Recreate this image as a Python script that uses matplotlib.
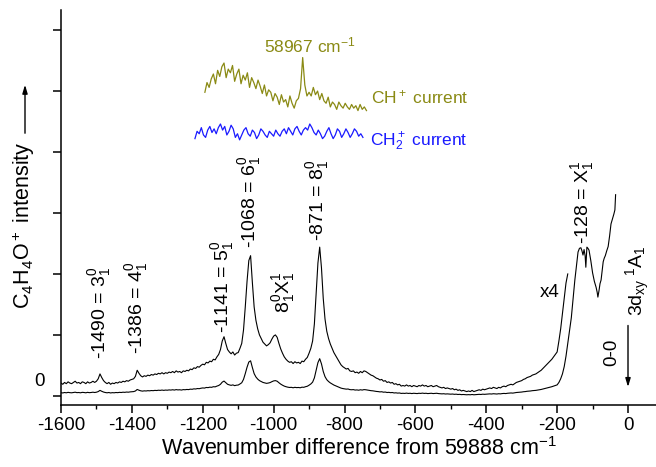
import numpy as np
import matplotlib
matplotlib.use("Agg")
import matplotlib.pyplot as plt
from matplotlib.ticker import MultipleLocator

plt.rcParams['font.family'] = ['Liberation Sans', 'DejaVu Sans']
plt.rcParams['mathtext.fontset'] = 'custom'
plt.rcParams['mathtext.rm'] = 'Liberation Sans'
plt.rcParams['mathtext.it'] = 'Liberation Sans:italic'
plt.rcParams['axes.unicode_minus'] = False

# --- data ---
# x4 magnified C4H4O+ trace, sampled every 5 cm-1 from -1600 to -170
x4_start, x4_step = -1600, 5
x4_vals = [
    0.21, 0.19, 0.22, 0.20, 0.23, 0.21, 0.20, 0.22, 0.24, 0.21, 0.22, 0.20, 0.23, 0.22, 0.20, 0.23, 0.21, 0.22, 0.24, 0.22,
    0.24, 0.28, 0.36, 0.30, 0.25, 0.22, 0.20, 0.22, 0.19, 0.21, 0.20, 0.22, 0.21, 0.23, 0.22, 0.24, 0.23, 0.25, 0.24, 0.26,
    0.27, 0.28, 0.32, 0.42, 0.37, 0.33, 0.31, 0.33, 0.32, 0.34, 0.33, 0.35, 0.34, 0.36, 0.35, 0.37, 0.36, 0.38, 0.36, 0.38,
    0.37, 0.39, 0.38, 0.40, 0.38, 0.41, 0.39, 0.40, 0.38, 0.41, 0.40, 0.42, 0.41, 0.44, 0.43, 0.46, 0.45, 0.48, 0.47, 0.50,
    0.52, 0.51, 0.55, 0.54, 0.57, 0.56, 0.60, 0.59, 0.64, 0.68, 0.76, 0.90, 0.97, 0.86, 0.76, 0.72, 0.69, 0.72, 0.67, 0.70,
    0.71, 0.78, 0.86, 1.08, 1.46, 1.88, 2.22, 2.30, 1.86, 1.46, 1.24, 1.10, 1.00, 0.94, 0.88, 0.85, 0.82, 0.84, 0.87, 0.93,
    0.98, 1.00, 0.96, 0.86, 0.77, 0.70, 0.64, 0.60, 0.57, 0.55, 0.56, 0.53, 0.56, 0.54, 0.55, 0.53, 0.57, 0.56, 0.60, 0.63,
    0.70, 0.78, 0.90, 1.18, 1.68, 2.18, 2.44, 2.10, 1.60, 1.26, 1.06, 0.94, 0.85, 0.78, 0.71, 0.66, 0.61, 0.56, 0.51, 0.48,
    0.46, 0.44, 0.45, 0.41, 0.40, 0.41, 0.38, 0.39, 0.37, 0.40, 0.38, 0.41, 0.40, 0.38, 0.36, 0.34, 0.33, 0.31, 0.29, 0.28,
    0.26, 0.27, 0.24, 0.25, 0.22, 0.23, 0.21, 0.22, 0.19, 0.20, 0.18, 0.19, 0.16, 0.17, 0.16, 0.18, 0.16, 0.17, 0.15, 0.17,
    0.16, 0.15, 0.17, 0.16, 0.18, 0.16, 0.17, 0.15, 0.16, 0.17, 0.15, 0.16, 0.17, 0.15, 0.14, 0.13, 0.14, 0.12, 0.13, 0.12,
    0.11, 0.12, 0.10, 0.11, 0.09, 0.10, 0.08, 0.09, 0.08, 0.07, 0.08, 0.07, 0.09, 0.07, 0.08, 0.09, 0.10, 0.09, 0.11, 0.10,
    0.11, 0.12, 0.13, 0.12, 0.14, 0.13, 0.12, 0.14, 0.13, 0.15, 0.16, 0.15, 0.17, 0.18, 0.19, 0.18, 0.20, 0.22, 0.23, 0.24,
    0.25, 0.27, 0.28, 0.30, 0.31, 0.32, 0.34, 0.35, 0.36, 0.38, 0.40, 0.42, 0.45, 0.48, 0.51, 0.54, 0.57, 0.60, 0.64, 0.68,
    0.72, 0.90, 1.10, 1.35, 1.60, 1.85, 2.00,
]
SCALE = 4   # the "x4" magnification

# unscaled trace beyond -205 cm-1 (origin band region)
tail_x = [-200, -195, -190, -185, -180, -175, -170, -165, -160, -155, -150, -145, -141, -137, -133,
          -130, -127, -124, -121, -119, -116, -113, -110, -105, -100, -95, -90, -87, -85, -82,
          -79, -76, -73, -70, -67, -64, -60, -56, -52, -48, -44, -40, -37, -35]
tail_y = [0.18, 0.22, 0.28, 0.36, 0.48, 0.65, 0.86, 1.08, 1.28, 1.60, 1.90, 2.15, 2.36, 2.42, 2.43,
          2.38, 2.31, 2.40, 2.30, 2.11, 2.44, 2.42, 2.39, 2.22, 2.02, 1.88, 1.78, 1.70, 1.62, 1.72,
          1.84, 1.90, 2.05, 2.20, 2.26, 2.30, 2.38, 2.45, 2.62, 2.82, 2.90, 2.98, 3.05, 3.30]

# CH+ current, every 6 cm-1 from -1194
ch_start, ch_step = -1194, 6
ch_vals = [
    4.98, 5.14, 5.06, 5.20, 5.28, 5.12, 5.34, 5.24, 5.40, 5.46, 5.22, 5.36, 5.30, 5.42, 5.16, 5.28,
    5.36, 5.12, 5.26, 5.18, 5.30, 5.06, 5.22, 5.14, 5.04, 5.18, 5.08, 4.96, 5.10, 4.92, 5.02, 4.98,
    4.84, 4.96, 4.90, 4.78, 4.94, 4.82, 4.86, 4.74, 4.92, 4.80, 4.72, 4.84, 4.88, 5.04, 5.55, 5.10,
    4.92, 4.98, 4.92, 5.06, 4.94, 5.00, 4.86, 4.96, 4.84, 4.80, 4.90, 4.74, 4.82, 4.78, 4.70, 4.82,
    4.76, 4.72, 4.80, 4.74, 4.70, 4.78, 4.72, 4.76, 4.68, 4.78, 4.70, 4.74, 4.68,
]

# CH2+ current, every 6 cm-1 from -1222
ch2_start, ch2_step = -1222, 6
ch2_vals = [
    4.22, 4.34, 4.30, 4.40, 4.28, 4.24, 4.36, 4.42, 4.32, 4.38,
    4.30, 4.40, 4.46, 4.36, 4.42, 4.28, 4.34, 4.44, 4.38, 4.24,
    4.30, 4.20, 4.28, 4.36, 4.40, 4.30, 4.26, 4.36, 4.32, 4.22,
    4.28, 4.38, 4.34, 4.28, 4.24, 4.34, 4.30, 4.26, 4.36, 4.30,
    4.26, 4.34, 4.38, 4.30, 4.40, 4.34, 4.28, 4.38, 4.42, 4.34,
    4.28, 4.36, 4.40, 4.36, 4.46, 4.40, 4.32, 4.28, 4.36, 4.30,
    4.22, 4.26, 4.34, 4.40, 4.30, 4.22, 4.28, 4.38, 4.34, 4.24,
    4.30, 4.38, 4.32, 4.24, 4.30, 4.38, 4.34, 4.26, 4.30, 4.24,
]

# band labels: (x position, bottom of text in y units, label)
band_labels = [
    (-1490, 0.60, r'-1490 = $\mathregular{3^0_1}$'),
    (-1386, 0.68, r'-1386 = $\mathregular{4^0_1}$'),
    (-1143, 1.03, r'-1141 = $\mathregular{5^0_1}$'),
    (-1068, 2.42, r'-1068 = $\mathregular{6^0_1}$'),
    (-972, 1.36, r'$\mathregular{8^0_1X^1_1}$'),
    (-876, 2.54, r'-871 = $\mathregular{8^0_1}$'),
    (-127, 2.49, r'-128 = $\mathregular{X^1_1}$'),
    (28, 1.31, r'$\mathregular{3d_{xy}\;{}^1A_1}$'),
]

x4_x = x4_start + x4_step * np.arange(len(x4_vals))
x4_y = np.array(x4_vals)
ch_x = ch_start + ch_step * np.arange(len(ch_vals))
ch2_x = ch2_start + ch2_step * np.arange(len(ch2_vals))

# the plain trace is the x4 trace divided back, then the unscaled tail
keep = x4_x <= -205
low_x = np.concatenate([x4_x[keep], tail_x])
low_y = np.concatenate([x4_y[keep] / SCALE, tail_y])

OLIVE = '#8a8a14'
BLUE = '#1a1aff'
FS = 13.5

fig = plt.figure(figsize=(6.56, 4.67), dpi=100)
ax = fig.add_axes([61 / 656, 62 / 467, 595 / 656, 395 / 467])

ax.plot(x4_x, x4_y, color='black', lw=0.8)
ax.plot(low_x, low_y, color='black', lw=0.8)
ax.plot(ch_x, ch_vals, color=OLIVE, lw=0.9)
ax.plot(ch2_x, ch2_vals, color=BLUE, lw=0.9)

ax.set_xlim(-1600, 79)
ax.set_ylim(-0.15, 6.33)
ax.xaxis.set_major_locator(MultipleLocator(200))
ax.xaxis.set_minor_locator(MultipleLocator(100))
ax.set_yticks(range(7))
ax.set_yticklabels([])
for side in ('top', 'right'):
    ax.spines[side].set_visible(False)
for side in ('left', 'bottom'):
    ax.spines[side].set_linewidth(1.1)
ax.tick_params(axis='both', which='major', direction='out', length=5.5, width=1.1, labelsize=FS)
ax.tick_params(axis='x', which='minor', direction='out', length=3, width=1.0)
ax.text(-0.027, 0.23, '0', transform=ax.get_yaxis_transform(), ha='right', va='center', fontsize=FS)

ax.set_xlabel(r'Wavenumber difference from 59888 cm$^{-1}$', fontsize=15.5, labelpad=2)
fig.text(24 / 656, 1 - 225 / 467, r'C$_4$H$_4$O$^+$ intensity', rotation=90,
         ha='center', va='center', fontsize=15.5)
ax.annotate('', xy=(25 / 656, 1 - 82 / 467), xytext=(25 / 656, 1 - 136 / 467),
            xycoords='figure fraction', textcoords='figure fraction',
            arrowprops=dict(arrowstyle='-|>,head_width=0.15,head_length=0.5', color='black', lw=1))

for bx, by, txt in band_labels:
    ax.text(bx, by, txt, rotation=90, ha='center', va='bottom', fontsize=14)

ax.text(-192, 1.7, 'x4', ha='right', va='center', fontsize=FS)
ax.text(-45, 0.72, '0-0', rotation=90, ha='center', va='center', fontsize=FS)
ax.annotate('', xy=(0, 0.1), xytext=(0, 1.2),
            arrowprops=dict(arrowstyle='-|>,head_width=0.15,head_length=0.5', color='black', lw=1))

ax.text(-897, 5.75, r'58967 cm$^{-1}$', color=OLIVE, ha='center', va='center', fontsize=12.5)
ax.text(-725, 4.9, r'CH$^+$ current', color=OLIVE, ha='left', va='center', fontsize=12.5)
ax.text(-727, 4.17, r'CH$_2^+$ current', color=BLUE, ha='left', va='center', fontsize=12.5)

fig.savefig('out.png', dpi=100)
